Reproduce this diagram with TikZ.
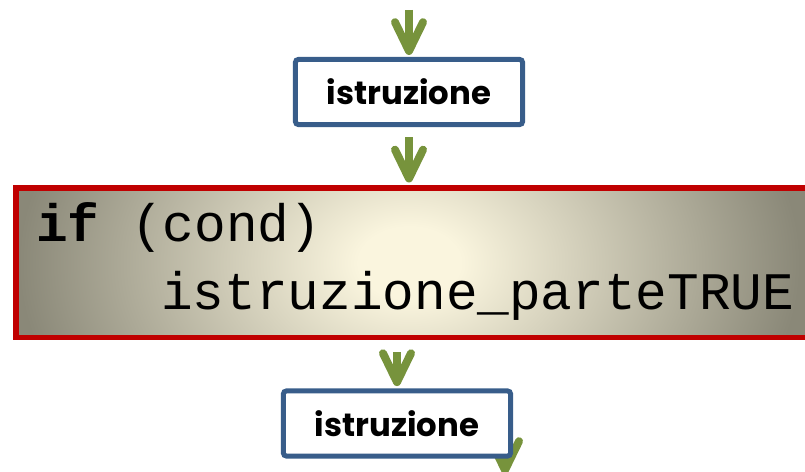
\documentclass[tikz,border=0pt]{standalone}
\usepackage{fontspec}
\usetikzlibrary{arrows.meta,backgrounds}
\newfontfamily\codefont{Liberation Mono}
\newfontfamily\labelfont{Poppins}
\definecolor{arrowclr}{RGB}{119,147,60}
\definecolor{boxclr}{RGB}{56,93,138}
\definecolor{ifclr}{RGB}{192,0,0}
\definecolor{ifglowclr}{RGB}{250,245,222}
\definecolor{ifgrayclr}{RGB}{138,136,120}
\pgfdeclareradialshading{ifglow}{\pgfpoint{0bp}{0bp}}{color(0bp)=(ifglowclr); color(3bp)=(ifglowclr); color(23bp)=(ifgrayclr); color(50bp)=(ifgrayclr); color(80bp)=(ifgrayclr)}
\tikzset{
  flowarrow/.style={draw=arrowclr, line width=0.2cm,
    -{Straight Barb[length=0.72cm, width=0.7cm, round]}},
  stmtbox/.style={draw=boxclr, line width=0.125cm, fill=white, rounded corners=2pt,
    minimum width=5.675cm, minimum height=1.625cm, inner sep=0pt,
    font=\labelfont\fontsize{23}{27}\selectfont\bfseries},
  codeline/.style={anchor=base west, inner sep=0pt,
    font=\codefont\fontsize{37.5}{44}\selectfont}
}

\begin{document}
\begin{tikzpicture}[x=0.025cm, y=-0.025cm]
  \useasboundingbox (0,0) rectangle (805,472);
  \node[stmtbox] (stmtA) at (409,92) {istruzione};
  \node[draw=ifclr, line width=0.1375cm, inner sep=0pt, minimum width=20.45cm,
        minimum height=3.725cm, anchor=north west,
        path picture={\shade[shading=ifglow]
          ([xshift=-11cm,yshift=-7.5cm]path picture bounding box.center) rectangle ++(840,-600);}]
    (ifblock) at (13,185.5) {};
  \node[codeline] (condline) at (36,242) {\textbf{if} (cond)};
  \node[codeline] (trueline) at (161,310) {istruzione\_parteTRUE};
  \node[stmtbox] (stmtB) at (397,423.5) {istruzione};
  \coordinate (topin) at (409,10);
  \coordinate (bottomout) at (505,474);
  \draw[flowarrow, shorten >=0.05cm] (topin) -- (stmtA);
  \draw[flowarrow, shorten <=0.26cm, shorten >=0.075cm] (stmtA) -- (stmtA |- ifblock.north);
  \draw[flowarrow, shorten <=0.31cm, shorten >=0.06cm] (stmtB |- ifblock.south) -- (stmtB);
  \begin{pgfonlayer}{background}
    \draw[flowarrow] (stmtB.center -| bottomout) -- (bottomout);
  \end{pgfonlayer}
\end{tikzpicture}
\end{document}
